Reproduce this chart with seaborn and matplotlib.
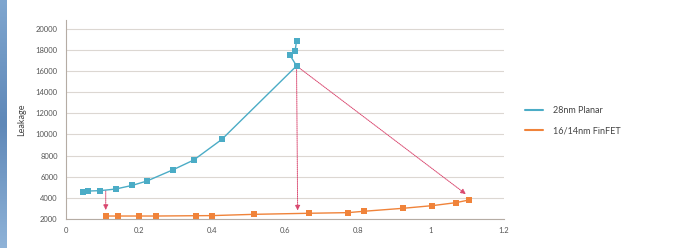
import numpy as np
import pandas as pd
import matplotlib
matplotlib.use("Agg")
import matplotlib.pyplot as plt
import seaborn as sns
from matplotlib.lines import Line2D

# ---- data ----
planar_x = [0.048, 0.061, 0.094, 0.136, 0.182, 0.222, 0.294, 0.350, 0.427, 0.632, 0.613, 0.628, 0.632]
planar_y = [4520, 4640, 4680, 4830, 5180, 5590, 6660, 7570, 9520, 16470, 17540, 17890, 18830]
finfet_x = [0.109, 0.143, 0.201, 0.247, 0.356, 0.401, 0.516, 0.666, 0.773, 0.817, 0.924, 1.004, 1.068, 1.104]
finfet_y = [2280, 2280, 2280, 2280, 2310, 2320, 2440, 2540, 2600, 2730, 3010, 3260, 3540, 3790]
series_names = ["28nm Planar", "16/14nm FinFET"]
# arrows: (x_start, y_start, x_end, y_end)
arrows = [(0.109, 4680, 0.109, 2850),
          (0.632, 16470, 0.635, 2800),
          (0.632, 16470, 1.096, 4350)]
x_ticks = [0, 0.2, 0.4, 0.6, 0.8, 1, 1.2]
x_tick_labels = ["0", "0.2", "0.4", "0.6", "0.8", "1", "1.2"]
y_ticks = list(range(2000, 20001, 2000))

df = pd.concat([
    pd.DataFrame({"x": planar_x, "y": planar_y, "series": series_names[0]}),
    pd.DataFrame({"x": finfet_x, "y": finfet_y, "series": series_names[1]}),
], ignore_index=True)

sns.set_style("white")
plt.rcParams["font.family"] = ["Lato", "DejaVu Sans"]

fig = plt.figure(figsize=(6.83, 2.48), dpi=100)
fig.patch.set_facecolor("white")

# left blue strip
strip = fig.add_axes([0, 0, 0.009, 1])
grad = np.linspace(0, 1, 256).reshape(-1, 1)
strip.imshow(grad, aspect="auto", cmap=matplotlib.colors.LinearSegmentedColormap.from_list(
    "s", ["#7fa6cf", "#5f88b8", "#8fb3d8"]))
strip.axis("off")

ax = fig.add_axes([0.0966, 0.117, 0.641, 0.802])
palette = {series_names[0]: "#4bacc6", series_names[1]: "#f0833a"}
sns.lineplot(data=df, x="x", y="y", hue="series", palette=palette, sort=False,
             estimator=None, marker="s", markersize=5,
             markeredgewidth=0, linewidth=1.0, ax=ax, legend=False)

for (x0, y0, x1, y1) in arrows:
    ax.annotate("", xy=(x1, y1), xytext=(x0, y0),
                arrowprops=dict(arrowstyle="-|>,head_length=0.3,head_width=0.15",
                                color="#d9466e", lw=0.7, linestyle=(0, (1, 1)),
                                shrinkA=0, shrinkB=0), zorder=1)

ax.set_xlim(0, 1.2)
ax.set_ylim(2000, 20800)
ax.set_xticks(x_ticks)
ax.set_xticklabels(x_tick_labels)
ax.set_yticks(y_ticks)
ax.tick_params(axis="both", labelsize=5.5, colors="#555555", length=0, pad=6)
ax.tick_params(axis="y", length=3, color="#b5aca4", width=0.6, pad=3)
ax.grid(axis="y", color="#dcd7d2", linewidth=0.8)
ax.set_axisbelow(True)
for s in ["top", "right"]:
    ax.spines[s].set_visible(False)
for s in ["left", "bottom"]:
    ax.spines[s].set_color("#b5aca4")
    ax.spines[s].set_linewidth(0.8)
ax.set_xlabel("")
ax.set_ylabel("Leakage", fontsize=6.5, color="#444444", labelpad=7)

handles = [Line2D([], [], color=palette[n], lw=1.5) for n in series_names]
ax.legend(handles, series_names, loc="upper left", bbox_to_anchor=(1.03, 0.61),
          frameon=False, fontsize=6.5, handlelength=2.0, handletextpad=1.1,
          labelspacing=1.3, labelcolor="#444444")

fig.savefig("out.png", dpi=100)
